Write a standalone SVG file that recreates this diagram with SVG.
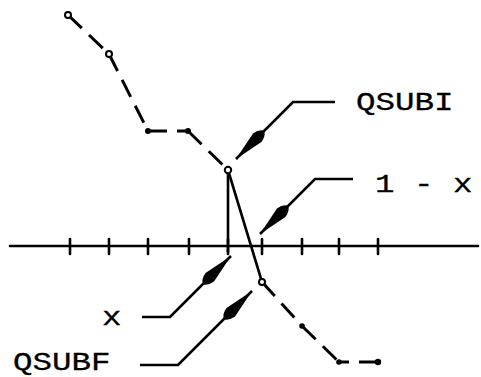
<svg xmlns="http://www.w3.org/2000/svg" width="481" height="377" viewBox="0 0 481 377">
<defs>
<style>
.lbl{font-family:"Liberation Mono","DejaVu Sans Mono",monospace;font-size:26px;fill:#000;stroke:#000;stroke-width:0.3}
.ln{stroke:#000;stroke-width:2.6;fill:none;stroke-linecap:round}
.dash{stroke:#000;stroke-width:3;fill:none;stroke-dasharray:19 10}
.ldr{stroke:#000;stroke-width:2.6;fill:none;marker-end:url(#dart)}
.hol{fill:#fff;stroke:#000;stroke-width:2}
.dot{fill:#000}
</style>
<marker id="dart" markerUnits="userSpaceOnUse" viewBox="-44 -8 46 16" refX="0" refY="0" markerWidth="46" markerHeight="16" orient="auto">
<path d="M0,0 L-30,-6 Q-37,-5 -40,0 Q-37,5 -30,6 Z" fill="#000"/>
</marker>
</defs>
<g id="axis">
<line class="ln" x1="10" y1="246" x2="478" y2="246" stroke-width="3"/>
<path class="ln" d="M70,239V254M109,239V254M148,239V254M189,239V254M228,239V254M262,239V254M302,239V254M339,239V254M378,239V254"/>
</g>
<g id="curve">
<path class="dash" d="M68,15L109,54"/>
<path class="dash" d="M109,54L148,131"/>
<path class="dash" d="M148,131L188,131"/>
<path class="dash" d="M188,131L228,170"/>
<path class="dash" d="M262,282L302,326"/>
<path class="dash" d="M302,326L339,362"/>
<path class="dash" d="M378,362L339,362"/>
<line class="ln" x1="228" y1="170" x2="228" y2="252"/>
<line class="ln" x1="228" y1="170" x2="262" y2="282"/>
<circle class="hol" cx="68" cy="15" r="3"/>
<circle class="hol" cx="109" cy="54" r="3"/>
<circle class="dot" cx="148" cy="131" r="3"/>
<circle class="dot" cx="188" cy="131" r="3"/>
<circle class="hol" cx="228" cy="170" r="3.2"/>
<circle class="hol" cx="262" cy="282" r="3"/>
<circle class="dot" cx="302" cy="326" r="2.8"/>
<circle class="dot" cx="339" cy="362" r="2.8"/>
<circle class="dot" cx="378" cy="362" r="3.2"/>
</g>
<g id="connectors">
<path class="ldr" d="M335,102H293L236,159"/>
<path class="ldr" d="M353,179H315L260,234"/>
<path class="ldr" d="M142,317H170L231,256"/>
<path class="ldr" d="M140,365H178L252,291"/>
</g>
<g id="QSUBI"><text class="lbl" transform="translate(356,110) scale(1.25,1)">QSUBI</text></g>
<g id="one-minus-x"><text class="lbl" transform="translate(375,192) scale(1.25,1)">1 - x</text></g>
<g id="x"><text class="lbl" transform="translate(102,325) scale(1.25,1)">x</text></g>
<g id="QSUBF"><text class="lbl" transform="translate(13,370) scale(1.25,1)">QSUBF</text></g>
</svg>
